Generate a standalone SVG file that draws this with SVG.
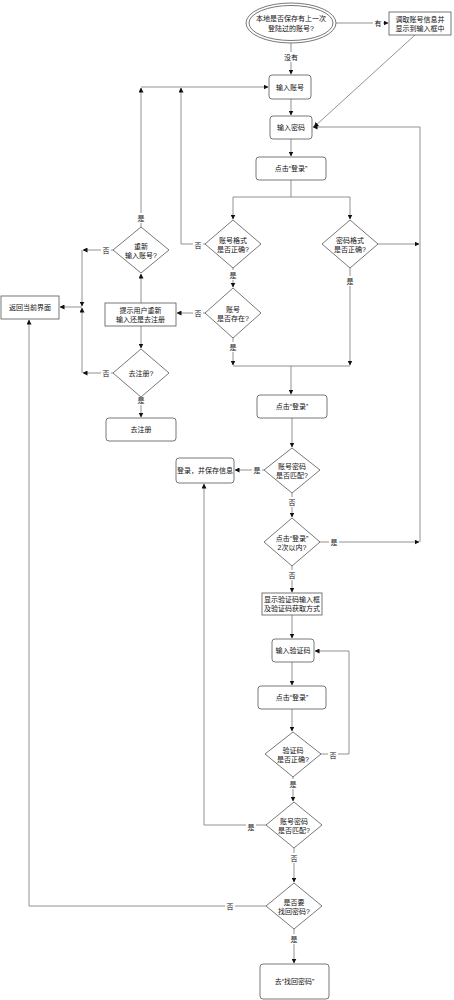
<svg xmlns="http://www.w3.org/2000/svg" width="454" height="1000" viewBox="0 0 454 1000">
<style>
.n{fill:#fff;stroke:#555;stroke-width:0.8}
.t{font-family:"Liberation Sans","Noto Sans CJK SC",sans-serif;font-size:7px;fill:#111;text-anchor:middle;dominant-baseline:central}
.c{fill:none;stroke:#777;stroke-width:0.8}
.lb{fill:#fff}
</style>
<defs>
<marker id="a" viewBox="0 0 10 10" refX="9" refY="5" markerWidth="5" markerHeight="5" orient="auto" markerUnits="userSpaceOnUse"><path d="M0,0 L10,5 L0,10 z" fill="#111"/></marker>
</defs>
<rect width="454" height="1000" fill="#fff"/>
<g id="connectors">
<path class="c" d="M336,23 H388" marker-end="url(#a)"/>
<path class="c" d="M291,43 V74" marker-end="url(#a)"/>
<path class="c" d="M141,87 H268" marker-end="url(#a)"/>
<path class="c" d="M291,99 V115" marker-end="url(#a)"/>
<path class="c" d="M415,35 L314,127" marker-end="url(#a)"/>
<path class="c" d="M291,139 V156" marker-end="url(#a)"/>
<path class="c" d="M291,180 V197 H233 V219" marker-end="url(#a)"/>
<path class="c" d="M291,197 H350 V219" marker-end="url(#a)"/>
<path class="c" d="M378,244 H419" marker-end="url(#a)"/>
<path class="c" d="M420,542 V127 H313" marker-end="url(#a)"/>
<path class="c" d="M205,244 H181 V88" marker-end="url(#a)"/>
<path class="c" d="M233,268 V287" marker-end="url(#a)"/>
<path class="c" d="M205,313 H177" marker-end="url(#a)"/>
<path class="c" d="M233,338 V365" marker-end="url(#a)"/>
<path class="c" d="M350,268 V365" marker-end="url(#a)"/>
<path class="c" d="M233,366 H350"/>
<path class="c" d="M291,366 V394" marker-end="url(#a)"/>
<path class="c" d="M141,303 V274" marker-end="url(#a)"/>
<path class="c" d="M141,227 V88" marker-end="url(#a)"/>
<path class="c" d="M113,250 H83" marker-end="url(#a)"/>
<path class="c" d="M82,250 V306" marker-end="url(#a)"/>
<path class="c" d="M113,373 H83" marker-end="url(#a)"/>
<path class="c" d="M82,373 V308" marker-end="url(#a)"/>
<path class="c" d="M82,307 H60" marker-end="url(#a)"/>
<path class="c" d="M141,326 V348" marker-end="url(#a)"/>
<path class="c" d="M141,397 V417" marker-end="url(#a)"/>
<path class="c" d="M292,418 V447" marker-end="url(#a)"/>
<path class="c" d="M264,470 H235" marker-end="url(#a)"/>
<path class="c" d="M292,493 V517" marker-end="url(#a)"/>
<path class="c" d="M319,542 H419" marker-end="url(#a)"/>
<path class="c" d="M292,566 V592" marker-end="url(#a)"/>
<path class="c" d="M292,615 V638" marker-end="url(#a)"/>
<path class="c" d="M292,662 V685" marker-end="url(#a)"/>
<path class="c" d="M292,709 V731" marker-end="url(#a)"/>
<path class="c" d="M320,754 H349 V651 H315" marker-end="url(#a)"/>
<path class="c" d="M293,777 V801" marker-end="url(#a)"/>
<path class="c" d="M266,825 H204 V484" marker-end="url(#a)"/>
<path class="c" d="M294,848 V882" marker-end="url(#a)"/>
<path class="c" d="M266,906 H29 V320" marker-end="url(#a)"/>
<path class="c" d="M294,929 V963" marker-end="url(#a)"/>
</g>
<g id="labels">
<rect class="lb" x="373" y="18" width="10" height="10"/><text class="t" x="378" y="23">有</text>
<rect class="lb" x="283" y="52" width="16" height="10"/><text class="t" x="291" y="57">没有</text>
<rect class="lb" x="345" y="276" width="10" height="10"/><text class="t" x="350" y="281">是</text>
<rect class="lb" x="193" y="240" width="10" height="10"/><text class="t" x="198" y="245">否</text>
<rect class="lb" x="228" y="270" width="10" height="10"/><text class="t" x="233" y="275">是</text>
<rect class="lb" x="193" y="308" width="10" height="10"/><text class="t" x="198" y="313">否</text>
<rect class="lb" x="228" y="342" width="10" height="10"/><text class="t" x="233" y="347">是</text>
<rect class="lb" x="136" y="213" width="10" height="10"/><text class="t" x="141" y="218">是</text>
<rect class="lb" x="101" y="245" width="10" height="10"/><text class="t" x="106" y="250">否</text>
<rect class="lb" x="101" y="368" width="10" height="10"/><text class="t" x="106" y="373">否</text>
<rect class="lb" x="136" y="395" width="10" height="10"/><text class="t" x="141" y="400">是</text>
<rect class="lb" x="252" y="465" width="10" height="10"/><text class="t" x="257" y="470">是</text>
<rect class="lb" x="287" y="497" width="10" height="10"/><text class="t" x="292" y="502">否</text>
<rect class="lb" x="329" y="537" width="10" height="10"/><text class="t" x="334" y="542">是</text>
<rect class="lb" x="287" y="570" width="10" height="10"/><text class="t" x="292" y="575">否</text>
<rect class="lb" x="328" y="750" width="10" height="10"/><text class="t" x="333" y="755">否</text>
<rect class="lb" x="288" y="779" width="10" height="10"/><text class="t" x="293" y="784">是</text>
<rect class="lb" x="246" y="822" width="10" height="10"/><text class="t" x="251" y="827">是</text>
<rect class="lb" x="289" y="853" width="10" height="10"/><text class="t" x="294" y="858">否</text>
<rect class="lb" x="225" y="901" width="10" height="10"/><text class="t" x="230" y="906">否</text>
<rect class="lb" x="289" y="934" width="10" height="10"/><text class="t" x="294" y="939">是</text>
</g>
<g id="n-start">
<ellipse class="n" cx="291" cy="23" rx="45" ry="20"/>
<ellipse class="n" cx="291" cy="23" rx="42" ry="17.5"/>
<text class="t" x="291" y="18.5">本地是否保存有上一次</text>
<text class="t" x="291" y="28">登陆过的账号?</text>
</g>
<g id="n-fetch">
<rect class="n" x="389" y="12" width="62" height="23"/>
<text class="t" x="420" y="19">调取账号信息并</text>
<text class="t" x="420" y="28.5">显示到输入框中</text>
</g>
<g id="n-input-account">
<rect class="n" x="269" y="75" width="42" height="24" rx="3"/>
<text class="t" x="290" y="87">输入账号</text>
</g>
<g id="n-input-pwd">
<rect class="n" x="270" y="116" width="42" height="23" rx="3"/>
<text class="t" x="291" y="127.5">输入密码</text>
</g>
<g id="n-click1">
<rect class="n" x="256" y="157" width="70" height="23" rx="3"/>
<text class="t" x="291" y="168.5">点击“登录”</text>
</g>
<g id="n-acc-format">
<polygon class="n" points="233,220 261,244 233,268 205,244"/>
<text class="t" x="233" y="240">账号格式</text>
<text class="t" x="233" y="249">是否正确?</text>
</g>
<g id="n-pwd-format">
<polygon class="n" points="350,220 378,244 350,268 322,244"/>
<text class="t" x="350" y="240">密码格式</text>
<text class="t" x="350" y="249">是否正确?</text>
</g>
<g id="n-acc-exist">
<polygon class="n" points="233,288 261,313 233,338 205,313"/>
<text class="t" x="233" y="309">账号</text>
<text class="t" x="233" y="318">是否存在?</text>
</g>
<g id="n-prompt">
<rect class="n" x="105" y="303" width="71" height="23"/>
<text class="t" x="140.5" y="310">提示用户重新</text>
<text class="t" x="140.5" y="319.5">输入还是去注册</text>
</g>
<g id="n-reenter">
<polygon class="n" points="141,227 169,250 141,273 113,250"/>
<text class="t" x="141" y="246">重新</text>
<text class="t" x="141" y="255">输入账号?</text>
</g>
<g id="n-goreg">
<polygon class="n" points="141,349 169,373 141,397 113,373"/>
<text class="t" x="141" y="373">去注册?</text>
</g>
<g id="n-reg">
<rect class="n" x="106" y="418" width="70" height="23" rx="3"/>
<text class="t" x="141" y="429.5">去注册</text>
</g>
<g id="n-back">
<rect class="n" x="1" y="296" width="58" height="23"/>
<text class="t" x="30" y="307.5">返回当前界面</text>
</g>
<g id="n-click2">
<rect class="n" x="257" y="395" width="70" height="23" rx="3"/>
<text class="t" x="292" y="406.5">点击“登录”</text>
</g>
<g id="n-match1">
<polygon class="n" points="292,448 320,470 292,493 264,470"/>
<text class="t" x="292" y="466">账号密码</text>
<text class="t" x="292" y="475">是否匹配?</text>
</g>
<g id="n-login">
<rect class="n" x="176" y="458" width="58" height="25" rx="3"/>
<text class="t" x="205" y="470.5">登录，并保存信息</text>
</g>
<g id="n-twice">
<polygon class="n" points="292,518 320,542 292,566 264,542"/>
<text class="t" x="292" y="538">点击“登录”</text>
<text class="t" x="292" y="547">2次以内?</text>
</g>
<g id="n-captcha-show">
<rect class="n" x="262" y="593" width="60" height="22"/>
<text class="t" x="292" y="599.5">显示验证码输入框</text>
<text class="t" x="292" y="608.5">及验证码获取方式</text>
</g>
<g id="n-captcha-input">
<rect class="n" x="272" y="639" width="42" height="23" rx="3"/>
<text class="t" x="293" y="650.5">输入验证码</text>
</g>
<g id="n-click3">
<rect class="n" x="258" y="686" width="68" height="23" rx="3"/>
<text class="t" x="292" y="697.5">点击“登录”</text>
</g>
<g id="n-captcha-ok">
<polygon class="n" points="293,732 321,754 293,777 265,754"/>
<text class="t" x="293" y="750">验证码</text>
<text class="t" x="293" y="759">是否正确?</text>
</g>
<g id="n-match2">
<polygon class="n" points="294,802 322,825 294,848 266,825"/>
<text class="t" x="294" y="821">账号密码</text>
<text class="t" x="294" y="830">是否匹配?</text>
</g>
<g id="n-recover-q">
<polygon class="n" points="294,883 322,906 294,929 266,906"/>
<text class="t" x="294" y="902">是否要</text>
<text class="t" x="294" y="911">找回密码?</text>
</g>
<g id="n-recover">
<rect class="n" x="260" y="964" width="69" height="35" rx="3"/>
<text class="t" x="294.5" y="981.5">去“找回密码”</text>
</g>
</svg>
